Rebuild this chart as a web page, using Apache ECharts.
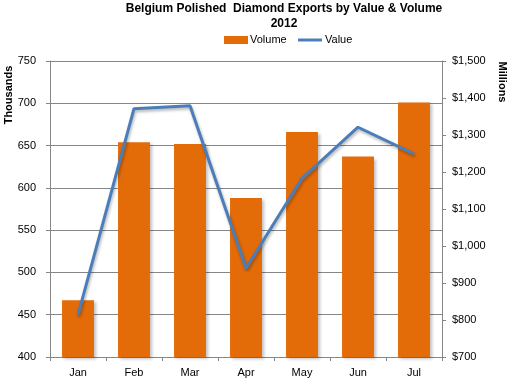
<!DOCTYPE html>
<html><head><meta charset="utf-8">
<script src="https://cdn.jsdelivr.net/npm/echarts@6/dist/echarts.min.js"></script>
<style>html,body{margin:0;padding:0;background:#fff}#c{width:515px;height:381px}</style>
</head><body><div id="c"></div>
<script>
const months = ['Jan','Feb','Mar','Apr','May','Jun','Jul'];
const volume = [467, 654, 652, 588, 666, 637, 701];
const value = [814, 1371, 1379, 940, 1183, 1321, 1249];

const chart = echarts.init(document.getElementById('c'));
const font = 'Liberation Sans';
chart.setOption({
  animation: false,
  backgroundColor: '#fff',
  title: {
    text: 'Belgium Polished  Diamond Exports by Value & Volume\n2012',
    left: 284, top: 1, padding: 0, textAlign: 'center',
    textStyle: {fontFamily: 'Liberation Sans', fontSize: 12, fontWeight: 'bold', color: '#000', lineHeight: 15}
  },
  grid: {left: 50, right: 73, top: 61, bottom: 24, containLabel: false},
  xAxis: {
    type: 'category', data: months,
    axisLine: {lineStyle: {color: '#868686'}},
    axisTick: {show: true, length: 4, lineStyle: {color: '#868686'}},
    axisLabel: {fontFamily: font, fontSize: 11, color: '#000', margin: 10}
  },
  yAxis: [
    {type: 'value', min: 400, max: 750, interval: 50,
     axisLine: {show: true, lineStyle: {color: '#868686'}},
     axisTick: {show: true, length: 4, lineStyle: {color: '#868686'}},
     axisLabel: {fontFamily: font, fontSize: 11, color: '#000', margin: 14},
     splitLine: {lineStyle: {color: '#868686'}}},
    {type: 'value', min: 700, max: 1500, interval: 100, position: 'right',
     axisLine: {show: true, lineStyle: {color: '#868686'}},
     axisTick: {show: true, length: 4, lineStyle: {color: '#868686'}},
     axisLabel: {fontFamily: font, fontSize: 11, color: '#000', margin: 10,
       formatter: v => '$' + v.toLocaleString('en-US')},
     splitLine: {show: false}}
  ],
  series: [
    {name: 'Volume', type: 'bar', data: volume, barWidth: '57%', yAxisIndex: 0,
     itemStyle: {color: '#E36C09', shadowColor: 'rgba(0,0,0,0.25)', shadowBlur: 3, shadowOffsetX: 2, shadowOffsetY: 2}},
    {name: 'Value', type: 'line', data: value, yAxisIndex: 1, symbol: 'none',
     lineStyle: {color: '#4A7EBB', width: 3, shadowColor: 'rgba(0,0,0,0.3)', shadowBlur: 3, shadowOffsetX: 1, shadowOffsetY: 2},
     itemStyle: {color: '#4A7EBB'}}
  ],
  graphic: [
    {type: 'text', x: 9, y: 95, rotation: Math.PI/2,
     style: {text: 'Thousands', fontFamily: 'Liberation Sans', fontSize: 11, fontWeight: 'bold', fill: '#000', textAlign: 'center', textVerticalAlign: 'middle'}},
    {type: 'text', x: 502, y: 82, rotation: -Math.PI/2,
     style: {text: 'Millions', fontFamily: 'Liberation Sans', fontSize: 11, fontWeight: 'bold', fill: '#000', textAlign: 'center', textVerticalAlign: 'middle'}},
    {type: 'rect', shape: {x: 224, y: 36, width: 24, height: 8}, style: {fill: '#E36C09'}},
    {type: 'text', x: 250, y: 40, style: {text: 'Volume', fontFamily: font, fontSize: 11, fill: '#000', textVerticalAlign: 'middle'}},
    {type: 'line', shape: {x1: 298, y1: 40, x2: 322, y2: 40}, style: {stroke: '#4A7EBB', lineWidth: 3}},
    {type: 'text', x: 325, y: 40, style: {text: 'Value', fontFamily: font, fontSize: 11, fill: '#000', textVerticalAlign: 'middle'}}
  ]
});
</script></body></html>
